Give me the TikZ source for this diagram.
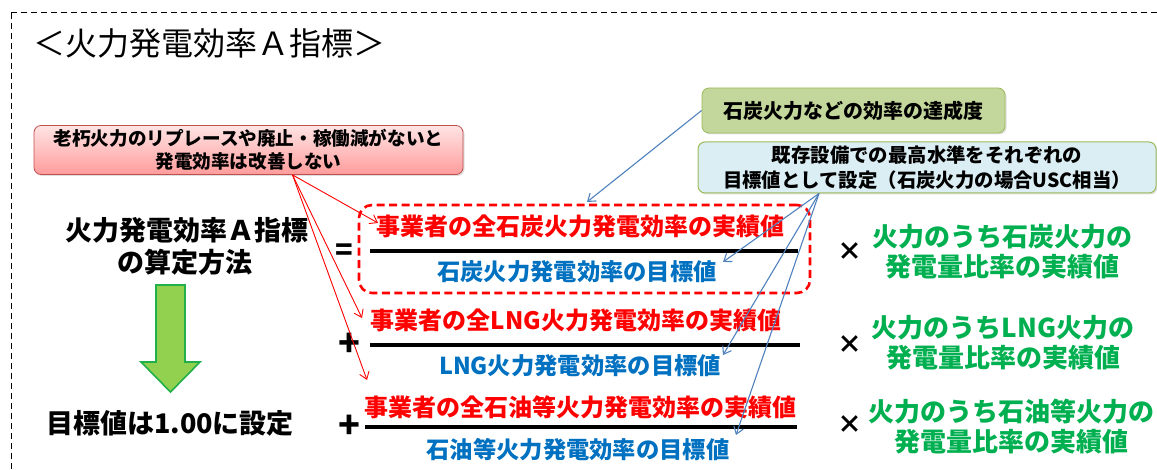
\documentclass[tikz,border=0pt]{standalone}
\usepackage{fontspec}
\setmainfont{Noto Sans CJK JP}
\usetikzlibrary{arrows.meta,shadows}
\definecolor{tred}{HTML}{FF0000}
\definecolor{tblue}{HTML}{0070C0}
\definecolor{tgreen}{HTML}{00B050}
\definecolor{arrblue}{HTML}{4F81BD}
\definecolor{pinktop}{HTML}{FFE4E4}
\definecolor{pinkbot}{HTML}{FF9C9C}
\definecolor{pinkedge}{HTML}{C0504D}
\definecolor{gboxfill}{HTML}{C3D69B}
\definecolor{gboxedge}{HTML}{9BBB59}
\definecolor{bboxfill}{HTML}{DBEEF4}
\definecolor{arrfill}{HTML}{92D050}
\definecolor{arredge}{HTML}{22B04A}
\tikzset{
  redtxt/.style={inner sep=0pt, text=tred, font=\bfseries\fontsize{24}{28}\selectfont},
  bluetxt/.style={inner sep=0pt, text=tblue, font=\bfseries\fontsize{23.3}{28}\selectfont},
  grntxt/.style={inner sep=0pt, text=tgreen, align=center, font=\bfseries\fontsize{26}{30}\selectfont},
  lefttxt/.style={inner sep=0pt, text=black, font=\bfseries\fontsize{27}{32}\selectfont},
  optxt/.style={inner sep=0pt, text=black, font=\bfseries\fontsize{36}{36}\selectfont},
  eqtxt/.style={inner sep=0pt, text=black, font=\bfseries\fontsize{29}{29}\selectfont},
  timestxt/.style={inner sep=0pt, text=black, font=\bfseries\fontsize{25}{25}\selectfont},
  fracline/.style={line width=3.5pt, black},
  pinkbox/.style={draw=pinkedge, line width=0.8pt, rounded corners=7pt, top color=pinktop, bottom color=pinkbot,
     align=center, inner sep=0pt, font=\bfseries\fontsize{18.6}{23}\selectfont,
     drop shadow={opacity=0.25, shadow xshift=1.5pt, shadow yshift=-1.5pt}},
  gbox/.style={draw=gboxedge, line width=0.8pt, rounded corners=7pt, fill=gboxfill,
     align=center, inner sep=0pt, font=\bfseries\fontsize{20}{24}\selectfont,
     drop shadow={opacity=0.25, shadow xshift=1.5pt, shadow yshift=-1.5pt}},
  bbox/.style={draw=gboxedge, line width=1pt, rounded corners=7pt, fill=bboxfill,
     align=center, inner sep=0pt, font=\bfseries\fontsize{19.4}{25}\selectfont,
     drop shadow={opacity=0.25, shadow xshift=1.5pt, shadow yshift=-1.5pt}},
  hlbox/.style={draw=tred, line width=2.6pt, dash pattern=on 8pt off 4.5pt, rounded corners=13pt, inner sep=0pt},
  redarr/.style={draw=tred, line width=0.9pt, -{Straight Barb[length=7pt,width=10pt]}},
  bluearr/.style={draw=arrblue, line width=1.1pt, -{Straight Barb[length=7pt,width=10pt]}},
  frame/.style={draw=black, line width=1pt, dash pattern=on 6pt off 4pt},
}
\begin{document}
\begin{tikzpicture}[x=1pt,y=-1pt]
\useasboundingbox (0,0) rectangle (1157,470);
\begin{scope}
\clip (0,0) rectangle (1157,470);
\draw[frame] (11,13) -- (1160,13);
\draw[frame] (11,13) -- (11,475);
\end{scope}

% title
\node[anchor=west, inner sep=0pt, font=\fontsize{32}{32}\selectfont] (title) at (33,43) {＜火力発電効率Ａ指標＞};

% callout boxes
\node[pinkbox, minimum width=429pt, minimum height=49pt] (pink) at (248.5,150) {老朽火力のリプレースや廃止・稼働減がないと\\発電効率は改善しない};
\node[gbox, minimum width=303pt, minimum height=45pt] (gb) at (853.5,110.5) {石炭火力などの効率の達成度};
\node[bbox, minimum width=458pt, minimum height=51pt] (bb) at (927,167.5) {既存設備での最高水準をそれぞれの\\目標値として設定（石炭火力の場合USC相当）};

% left column
\node[lefttxt] (l1) at (187,230) {火力発電効率Ａ指標};
\node[lefttxt] (l2) at (185,262) {の算定方法};
\node[lefttxt] (l3) at (170,423) {目標値は1.00に設定};
\draw[fill=arrfill, draw=arredge, line width=1.6pt, line join=miter]
  (156,285) -- (185,285) -- (185,362) -- (200,362) -- (170.5,392) -- (141,362) -- (156,362) -- cycle;

% highlight frame
\node[hlbox, minimum width=451pt, minimum height=88pt] (hl) at (584.5,249) {};

% row 1
\node[eqtxt] (eq) at (344,252) {=};
\node[redtxt] (n1) at (580,226) {事業者の全石炭火力発電効率の実績値};
\node[bluetxt] (d1) at (577,272) {石炭火力発電効率の目標値};
\coordinate (f1a) at (370,251); \coordinate (f1b) at (798,251);
\draw[fracline] (f1a) -- (f1b);
\node[timestxt] (x1) at (850,252) {×};
\node[grntxt] (g1) at (1002,252) {火力のうち石炭火力の\\発電量比率の実績値};

% row 2
\node[optxt] (p2) at (349,345) {+};
\node[redtxt] (n2) at (576,320) {事業者の全LNG火力発電効率の実績値};
\node[bluetxt] (d2) at (580,366) {LNG火力発電効率の目標値};
\coordinate (f2a) at (370,345); \coordinate (f2b) at (800,345);
\draw[fracline] (f2a) -- (f2b);
\node[timestxt] (x2) at (850,345) {×};
\node[grntxt] (g2) at (1003,343) {火力のうちLNG火力の\\発電量比率の実績値};

% row 3
\node[optxt] (p3) at (349,427) {+};
\node[redtxt] (n3) at (580,407) {事業者の全石油等火力発電効率の実績値};
\node[bluetxt] (d3) at (578,450) {石油等火力発電効率の目標値};
\coordinate (f3a) at (365,427); \coordinate (f3b) at (797,427);
\draw[fracline] (f3a) -- (f3b);
\node[timestxt] (x3) at (850,425) {×};
\node[grntxt] (g3) at (1011,427) {火力のうち石油等火力の\\発電量比率の実績値};

% red arrows
\coordinate (ro) at ([xshift=44pt]pink.south);
\coordinate (r1) at (378,223);
\coordinate (r2) at (362,318);
\coordinate (r3) at (367,380);
\draw[redarr] (ro) -- (r1);
\draw[redarr] (ro) -- (r2);
\draw[redarr] (ro) -- (r3);

% blue arrows
\coordinate (b0) at (587,202);
\draw[bluearr] (gb.west) -- (b0);
\coordinate (bo) at ([xshift=-108pt]bb.south);
\coordinate (b1) at (723,262);
\coordinate (b2) at (723,355);
\coordinate (b3) at (736,435);
\draw[bluearr] (bo) -- (b1);
\draw[bluearr] (bo) -- (b2);
\draw[bluearr] (bo) -- (b3);
\end{tikzpicture}
\end{document}
